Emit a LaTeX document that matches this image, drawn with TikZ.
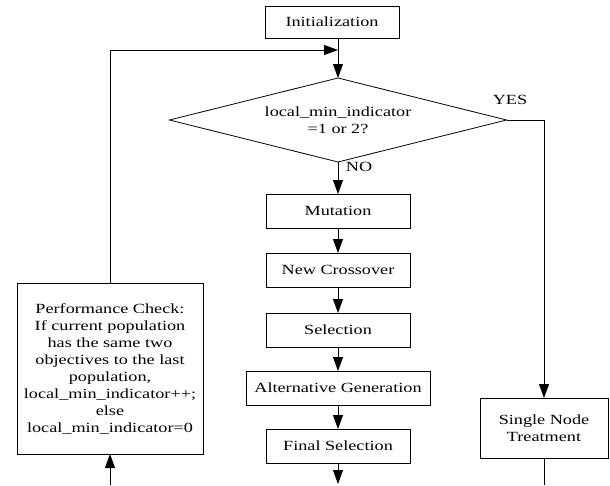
\documentclass[tikz,border=0pt]{standalone}
\usepackage{fontspec}
\setmainfont{Liberation Serif}[FakeStretch=1.3]
\usetikzlibrary{arrows.meta,shapes.geometric}
\tikzset{
  every node/.style={font=\fontsize{14}{17}\selectfont},
  box/.style={draw, line width=0.8pt, rectangle, minimum height=34pt, inner sep=3pt, outer sep=0pt, align=center},
  conn/.style={line width=0.8pt},
  arr/.style={conn, -{Triangle[length=14pt,width=10pt]}},
  lbl/.style={inner sep=0pt}
}
\begin{document}
\begin{tikzpicture}[x=1pt,y=-1pt]
\useasboundingbox (0,0) rectangle (610,485);
% nodes
\node[box, minimum width=134pt, minimum height=32pt] (init) at (332,22) {Initialization};
\node[draw, line width=0.8pt, diamond, aspect=4, inner sep=0pt, outer sep=0pt,
      minimum width=337pt, minimum height=84pt, align=center] (dec) at (338,120)
      {local\_min\_indicator\\=1 or 2?};
\node[box, minimum width=144pt] (mut) at (338,211) {Mutation};
\node[box, minimum width=144pt] (nc)  at (338,270) {New Crossover};
\node[box, minimum width=144pt] (sel) at (338,330) {Selection};
\node[box, minimum width=184pt] (alt) at (338,388) {Alternative Generation};
\node[box, minimum width=144pt] (fs)  at (338,446) {Final Selection};
\node[box, minimum width=128pt, minimum height=60pt] (snt) at (544,428) {Single Node\\Treatment};
\node[box, minimum width=186pt, minimum height=171pt] (perf) at (110,368.5)
  {Performance Check:\\If current population\\has the same two\\objectives to the last\\population,\\local\_min\_indicator++;\\else\\local\_min\_indicator=0};
\node[lbl] (yes) at (510,100) {YES};
\node[lbl] (no) at (359,167) {NO};
% coordinates
\coordinate (merge) at (338,50);
\coordinate (fsend) at (338,484);
\coordinate (sntend) at (544,485);
\coordinate (perfin) at (110,485);
% connectors
\draw[conn] (init.south -| dec.north) -- (merge);
\draw[arr] (merge) -- (dec.north);
\draw[arr] (perf.north) |- (merge);
\draw[arr] (dec.south) -- (mut.north);
\draw[arr] (dec.east) -| (snt.north);
\draw[arr] (mut.south) -- (nc.north);
\draw[arr] (nc.south) -- (sel.north);
\draw[arr] (sel.south) -- (alt.north);
\draw[arr] (alt.south) -- (fs.north);
\draw[arr] (fs.south) -- (fsend);
\draw[conn] (snt.south) -- (sntend);
\draw[arr] (perfin) -- (perf.south);
\end{tikzpicture}
\end{document}
